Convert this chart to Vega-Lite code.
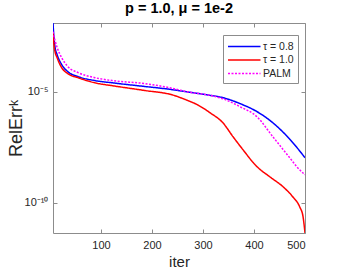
{
  "$schema": "https://vega.github.io/schema/vega-lite/v6.json",
  "autosize": {"type": "none"},
  "padding": {"left": 53, "top": 23, "right": 33, "bottom": 40},
  "width": 252,
  "height": 210,
  "background": "white",
  "config": {
    "font": "Liberation Sans",
    "view": {"stroke": null},
    "axis": {"grid": false, "domainColor": "#8c8c8c", "tickColor": "#8c8c8c", "labelColor": "#262626", "titleColor": "#262626", "labelFont": "Liberation Sans", "titleFont": "Liberation Sans", "titleFontWeight": "normal", "labelFontSize": 11, "tickSize": -4}
  },
  "title": {"text": "p = 1.0, μ = 1e-2", "fontSize": 14.5, "fontWeight": "bold", "font": "Liberation Sans", "color": "#000000", "offset": 6, "anchor": "middle"},
  "data": {"values": [
    {"iter": 6, "err": 1.23e-2, "s": "τ = 0.8"},
    {"iter": 8, "err": 2.51e-3, "s": "τ = 0.8"},
    {"iter": 10, "err": 1.0e-3, "s": "τ = 0.8"},
    {"iter": 14, "err": 4.68e-4, "s": "τ = 0.8"},
    {"iter": 23, "err": 1.66e-4, "s": "τ = 0.8"},
    {"iter": 35, "err": 7.94e-5, "s": "τ = 0.8"},
    {"iter": 55, "err": 4.79e-5, "s": "τ = 0.8"},
    {"iter": 88, "err": 3.16e-5, "s": "τ = 0.8"},
    {"iter": 122, "err": 2.51e-5, "s": "τ = 0.8"},
    {"iter": 187, "err": 1.70e-5, "s": "τ = 0.8"},
    {"iter": 230, "err": 1.32e-5, "s": "τ = 0.8"},
    {"iter": 275, "err": 9.33e-6, "s": "τ = 0.8"},
    {"iter": 310, "err": 7.08e-6, "s": "τ = 0.8"},
    {"iter": 339, "err": 5.37e-6, "s": "τ = 0.8"},
    {"iter": 373, "err": 2.88e-6, "s": "τ = 0.8"},
    {"iter": 406, "err": 1.26e-6, "s": "τ = 0.8"},
    {"iter": 437, "err": 3.98e-7, "s": "τ = 0.8"},
    {"iter": 471, "err": 6.92e-8, "s": "τ = 0.8"},
    {"iter": 500, "err": 1.07e-8, "s": "τ = 0.8"},
    {"iter": 6, "err": 4.57e-3, "s": "τ = 1.0"},
    {"iter": 8, "err": 1.26e-3, "s": "τ = 1.0"},
    {"iter": 10, "err": 6.31e-4, "s": "τ = 1.0"},
    {"iter": 14, "err": 3.39e-4, "s": "τ = 1.0"},
    {"iter": 23, "err": 1.20e-4, "s": "τ = 1.0"},
    {"iter": 35, "err": 6.46e-5, "s": "τ = 1.0"},
    {"iter": 55, "err": 4.27e-5, "s": "τ = 1.0"},
    {"iter": 88, "err": 2.51e-5, "s": "τ = 1.0"},
    {"iter": 122, "err": 1.86e-5, "s": "τ = 1.0"},
    {"iter": 187, "err": 1.12e-5, "s": "τ = 1.0"},
    {"iter": 239, "err": 7.24e-6, "s": "τ = 1.0"},
    {"iter": 266, "err": 4.37e-6, "s": "τ = 1.0"},
    {"iter": 290, "err": 2.51e-6, "s": "τ = 1.0"},
    {"iter": 314, "err": 1.12e-6, "s": "τ = 1.0"},
    {"iter": 339, "err": 3.98e-7, "s": "τ = 1.0"},
    {"iter": 359, "err": 9.33e-8, "s": "τ = 1.0"},
    {"iter": 378, "err": 2.51e-8, "s": "τ = 1.0"},
    {"iter": 406, "err": 4.17e-9, "s": "τ = 1.0"},
    {"iter": 431, "err": 1.48e-9, "s": "τ = 1.0"},
    {"iter": 457, "err": 5.25e-10, "s": "τ = 1.0"},
    {"iter": 476, "err": 1.86e-10, "s": "τ = 1.0"},
    {"iter": 490, "err": 6.31e-11, "s": "τ = 1.0"},
    {"iter": 496, "err": 2.51e-11, "s": "τ = 1.0"},
    {"iter": 500, "err": 4.37e-12, "s": "τ = 1.0"},
    {"iter": 6, "err": 5.01e-3, "s": "PALM"},
    {"iter": 10, "err": 2.0e-3, "s": "PALM"},
    {"iter": 14, "err": 1.0e-3, "s": "PALM"},
    {"iter": 23, "err": 3.39e-4, "s": "PALM"},
    {"iter": 35, "err": 1.35e-4, "s": "PALM"},
    {"iter": 55, "err": 7.24e-5, "s": "PALM"},
    {"iter": 88, "err": 4.27e-5, "s": "PALM"},
    {"iter": 122, "err": 3.16e-5, "s": "PALM"},
    {"iter": 187, "err": 2.29e-5, "s": "PALM"},
    {"iter": 230, "err": 1.58e-5, "s": "PALM"},
    {"iter": 275, "err": 9.33e-6, "s": "PALM"},
    {"iter": 310, "err": 7.08e-6, "s": "PALM"},
    {"iter": 339, "err": 4.79e-6, "s": "PALM"},
    {"iter": 373, "err": 2.09e-6, "s": "PALM"},
    {"iter": 406, "err": 7.41e-7, "s": "PALM"},
    {"iter": 437, "err": 9.33e-8, "s": "PALM"},
    {"iter": 457, "err": 2.51e-8, "s": "PALM"},
    {"iter": 471, "err": 1.0e-8, "s": "PALM"},
    {"iter": 484, "err": 4.17e-9, "s": "PALM"},
    {"iter": 500, "err": 1.82e-9, "s": "PALM"}
  ]},
  "layer": [
    {
      "mark": {"type": "line", "strokeWidth": 1.5, "clip": true, "interpolate": "monotone"},
      "encoding": {
        "x": {"field": "iter", "type": "quantitative", "scale": {"domain": [6, 500], "nice": false, "zero": false}, "axis": {"values": [100, 200, 300, 400, 500], "title": "iter", "titleFontSize": 15, "titlePadding": 4, "labelPadding": 10}},
        "y": {"field": "err", "type": "quantitative", "scale": {"type": "log", "domain": [4.37e-12, 1.23e-2], "nice": false}, "axis": {"values": [1e-5, 1e-10], "labelExpr": "datum.value > 1e-7 ? '10⁻⁵' : '10⁻¹⁰'", "title": "RelErrᵏ", "titleFontSize": 18, "titlePadding": -1, "labelPadding": 9}},
        "color": {"field": "s", "type": "nominal", "scale": {"domain": ["τ = 0.8", "τ = 1.0", "PALM"], "range": ["#0000ff", "#ff0000", "#ff00ff"]}, "legend": {"title": null, "orient": "none", "legendX": 170, "legendY": 12, "strokeColor": "#8c8c8c", "fillColor": "white", "padding": 4, "symbolType": "M-1,0H4", "symbolSize": 169, "symbolStrokeWidth": 1.5, "labelFontSize": 10.5, "labelColor": "#262626", "rowPadding": 0.5, "labelOffset": 21}},
        "strokeDash": {"field": "s", "type": "nominal", "scale": {"domain": ["τ = 0.8", "τ = 1.0", "PALM"], "range": [[1, 0], [1, 0], [2, 1.5]]}, "legend": {"title": null}}
      }
    },
    {
      "mark": {"type": "line", "opacity": 0},
      "encoding": {
        "x": {"field": "iter", "type": "quantitative", "axis": {"orient": "top", "values": [100, 200, 300, 400, 500], "labels": false, "title": null}},
        "y": {"field": "err", "type": "quantitative", "axis": {"orient": "right", "values": [1e-5, 1e-10], "labels": false, "title": null}},
        "detail": {"field": "s"}
      }
    }
  ],
  "resolve": {"axis": {"x": "independent", "y": "independent"}}
}
